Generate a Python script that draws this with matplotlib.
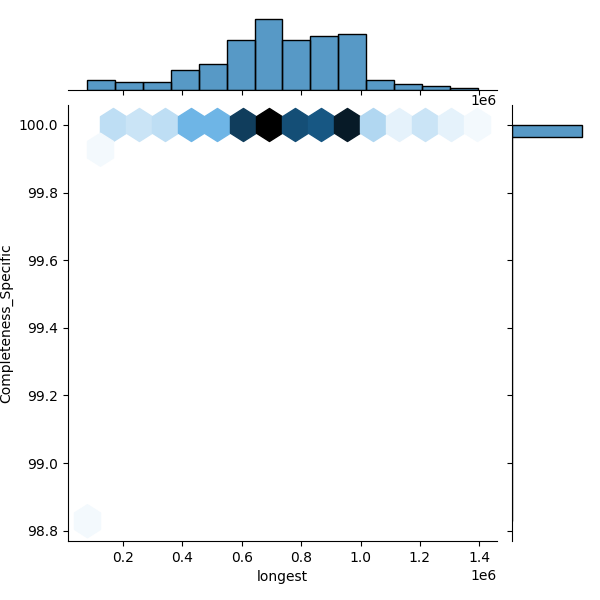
import numpy as np
import matplotlib
matplotlib.use("Agg")
import matplotlib.pyplot as plt
import matplotlib as mpl
import seaborn as sns

# ---- data ----
# hex cells: (longest, Completeness_Specific) cell positions and point counts
hex_x = [0.0807e6, 0.1245e6, 0.168e6, 0.256e6, 0.344e6, 0.431e6, 0.519e6, 0.606e6,
         0.694e6, 0.781e6, 0.869e6, 0.956e6, 1.044e6, 1.131e6, 1.219e6, 1.306e6, 1.394e6]
hex_y = [98.828, 99.927, 100.0, 100.0, 100.0, 100.0, 100.0, 100.0,
         100.0, 100.0, 100.0, 100.0, 100.0, 100.0, 100.0, 100.0, 100.0]
hex_counts = [1, 1, 5, 4, 5, 11, 11, 26, 33, 24, 23, 30, 6, 2, 4, 2, 1]

# marginal histogram of "longest"
longest_min, longest_max = 0.0807e6, 1.394e6
longest_counts = [5, 4, 4, 10, 13, 25, 36, 25, 27, 28, 5, 3, 2, 1]

# marginal histogram of "Completeness_Specific"
comp_values = [98.828, 99.927, 100.0]
comp_counts = [1, 1, 186]
comp_nbins = 32

xlabel = "longest"
ylabel = "Completeness_Specific"

# ---- plotting ----
g = sns.JointGrid(height=6, ratio=5, space=0.2)
fig = g.figure
fig.set_dpi(100)
fig.subplots_adjust(left=0.1133, right=0.9763, bottom=0.0983, top=0.975)

color_rgb = mpl.colors.to_rgb("C0")
colors = [sns.utils.set_hls_values(color_rgb, l=l) for l in np.linspace(1, 0, 12)]
cmap = sns.blend_palette(colors, as_cmap=True)

ext = (min(hex_x), max(hex_x), min(hex_y), max(hex_y))
g.ax_joint.hexbin(hex_x, hex_y, C=hex_counts, reduce_C_function=np.sum,
                  gridsize=15, cmap=cmap, extent=ext, vmin=0)

x_edges = np.linspace(longest_min, longest_max, len(longest_counts) + 1)
x_centers = (x_edges[:-1] + x_edges[1:]) / 2
g.ax_marg_x.hist(x_centers, bins=x_edges, weights=longest_counts,
                 color="C0", alpha=0.75, edgecolor="none")
g.ax_marg_x.hist(x_centers, bins=x_edges, weights=longest_counts,
                 histtype="bar", facecolor="none", edgecolor="black", linewidth=1)

y_edges = np.linspace(min(comp_values), max(comp_values), comp_nbins + 1)
g.ax_marg_y.hist(comp_values, bins=y_edges, weights=comp_counts,
                 orientation="horizontal", color="C0", alpha=0.75,
                 edgecolor="none")
g.ax_marg_y.hist(comp_values, bins=y_edges, weights=comp_counts,
                 orientation="horizontal", facecolor="none",
                 edgecolor="black", linewidth=1)

g.set_axis_labels(xlabel, ylabel)
fig.savefig("out.png", dpi=100)
